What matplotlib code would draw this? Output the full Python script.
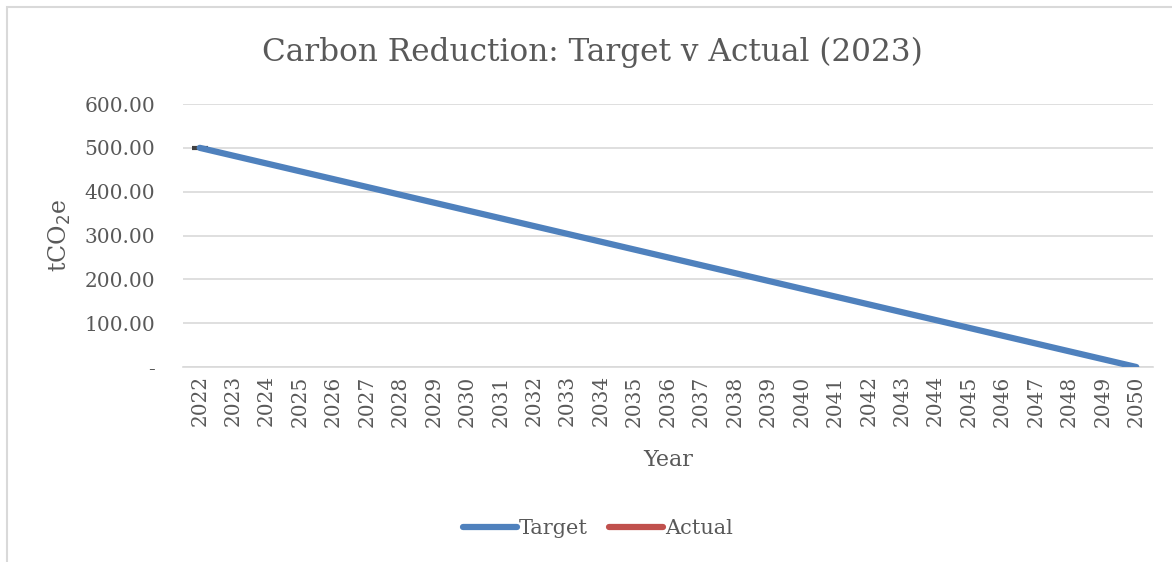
import matplotlib.pyplot as plt
from matplotlib.patches import Rectangle

years = [str(y) for y in range(2022, 2051)]
target = [500.00, 482.14, 464.29, 446.43, 428.57, 410.71, 392.86, 375.00,
          357.14, 339.29, 321.43, 303.57, 285.71, 267.86, 250.00, 232.14,
          214.29, 196.43, 178.57, 160.71, 142.86, 125.00, 107.14, 89.29,
          71.43, 53.57, 35.71, 17.86, 0.00]
actual = [500.00]
yticks = [0, 100, 200, 300, 400, 500, 600]
ytick_labels = ['-', '100.00', '200.00', '300.00', '400.00', '500.00', '600.00']

plt.rcParams['font.family'] = ['DejaVu Serif']
txt = '#595959'
grid = '#D9D9D9'

fig = plt.figure(figsize=(11.72, 5.62), dpi=100)

# chart border (only top/left visible in the crop)
fig.patches.append(Rectangle((7 / 1172, -0.1), 1.2, (562 - 7) / 562 + 0.1,
                             transform=fig.transFigure, fill=False,
                             edgecolor=grid, linewidth=1.5))

ax = fig.add_axes([183 / 1172, 1 - 367 / 562, 970 / 1172, 263 / 562])
x = list(range(len(years)))
ln_t, = ax.plot(x, target, color='#4F81BD', linewidth=4.5,
                solid_capstyle='round', zorder=3)
ln_a, = ax.plot(x[:len(actual)], actual, color='#C0504D', linewidth=4.5,
                solid_capstyle='round', zorder=4)
ax.plot(x[:len(actual)], actual, marker='_', markersize=11,
        markeredgewidth=3, color='#404040', linestyle='none', zorder=2)

ax.set_xlim(-0.5, len(years) - 0.5)
ax.set_ylim(0, 600)
ax.set_yticks(yticks)
ax.set_yticklabels(ytick_labels)
ax.set_xticks(x)
ax.set_xticklabels(years, rotation=90)
ax.grid(axis='y', color=grid, linewidth=1.2)
ax.set_axisbelow(True)
for s in ['top', 'right', 'left']:
    ax.spines[s].set_visible(False)
ax.spines['bottom'].set_color(grid)
ax.spines['bottom'].set_linewidth(1.2)
ax.tick_params(axis='both', length=0, colors=txt, labelsize=14.5)
ax.tick_params(axis='y', pad=20)
ax.tick_params(axis='x', pad=6)

ax.set_xlabel('Year', color=txt, fontsize=16, labelpad=16)
ax.set_ylabel('tCO$_2$e', color=txt, fontsize=17, labelpad=8)

fig.text(592 / 1172, 1 - 52 / 562, 'Carbon Reduction: Target v Actual (2023)',
         ha='center', va='center', color=txt, fontsize=22.4)

fig.legend([ln_t, ln_a], ['Target', 'Actual'], loc='center',
           bbox_to_anchor=(598 / 1172, 1 - 529 / 562), ncol=2, frameon=False,
           fontsize=15, labelcolor=txt, handlelength=2.6, handletextpad=0.1,
           columnspacing=1.0)

fig.savefig('out.png', dpi=100, facecolor='white')
